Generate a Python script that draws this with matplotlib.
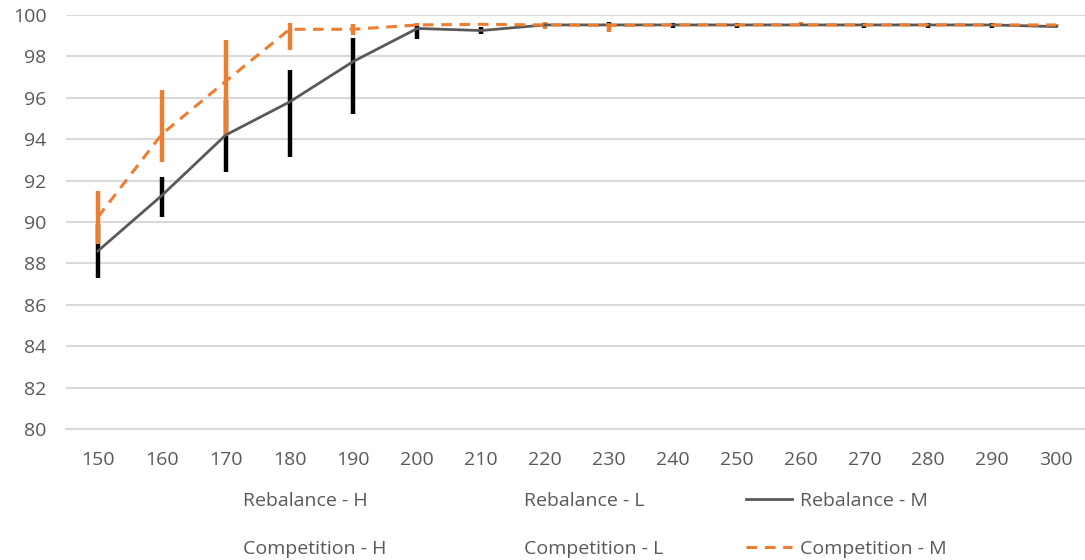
import matplotlib
matplotlib.use("Agg")
import matplotlib.pyplot as plt
from matplotlib.lines import Line2D
import numpy as np

plt.rcParams['font.family'] = ['Open Sans', 'DejaVu Sans']

# x categories
cats = [150, 160, 170, 180, 190, 200, 210, 220, 230, 240, 250, 260, 270, 280, 290, 300]

# Rebalance high / mid / low
reb_h = [89.9, 92.16, 95.9, 97.33, 98.91, 99.45, 99.4, 99.6, 99.68, 99.6, 99.6, 99.58, 99.6, 99.6, 99.6, 99.5]
reb_m = [88.6, 91.28, 94.2, 95.8, 97.76, 99.35, 99.25, 99.52, 99.52, 99.52, 99.52, 99.52, 99.52, 99.52, 99.52, 99.44]
reb_l = [87.28, 90.24, 92.43, 93.12, 95.2, 98.85, 99.07, 99.45, 99.45, 99.37, 99.37, 99.45, 99.37, 99.37, 99.37, 99.4]

# Competition high / mid / low
comp_h = [91.52, 96.4, 98.8, 99.63, 99.57, 99.6, 99.6, 99.65, 99.6, 99.56, 99.56, 99.65, 99.56, 99.56, 99.56, 99.58]
comp_m = [90.24, 94.24, 96.8, 99.31, 99.31, 99.52, 99.55, 99.52, 99.5, 99.52, 99.52, 99.52, 99.52, 99.52, 99.52, 99.52]
comp_l = [88.96, 92.88, 94.16, 98.32, 99.04, 99.45, 99.5, 99.33, 99.2, 99.48, 99.48, 99.45, 99.48, 99.48, 99.48, 99.45]

orange = '#ED7D31'
txt = '#595959'
gridc = '#d9d9d9'

W, H = 1085, 560
fig = plt.figure(figsize=(W / 100, H / 100), dpi=100)
# plot area in pixels
left, right, top, bottom = 66, 1088, 15, 429
ax = fig.add_axes([left / W, 1 - bottom / H, (right - left) / W, (bottom - top) / H])

x = np.arange(len(cats))

# high-low bars, rebalance first then competition on top
ax.vlines(x, reb_l, reb_h, color='black', lw=3.2, zorder=3)
ax.vlines(x, comp_l, comp_h, color=orange, lw=3.2, zorder=4)
ax.plot(x, reb_m, color='#595959', lw=2, zorder=5)
ax.plot(x, comp_m, color=orange, lw=2.2, ls=(0, (3.5, 2.5)), zorder=6)

ax.set_xlim(-0.5, len(cats) - 0.5)
ax.set_ylim(80, 100)
ax.set_yticks(np.arange(80, 101, 2))
ax.set_xticks(x)
ax.set_xticklabels([str(c) for c in cats])
ax.grid(axis='y', color=gridc, lw=1.5)
ax.set_axisbelow(True)
for s in ['top', 'right', 'left']:
    ax.spines[s].set_visible(False)
ax.spines['bottom'].set_color(gridc)
ax.spines['bottom'].set_linewidth(1.5)
ax.tick_params(axis='both', length=0, labelsize=14, colors=txt)
ax.tick_params(axis='x', pad=16)
ax.tick_params(axis='y', pad=14)

blank = Line2D([], [], lw=0)
handles = [blank, blank, blank, blank,
           Line2D([], [], color='#595959', lw=2),
           Line2D([], [], color=orange, lw=2.2, ls=(0, (3.5, 2.5)))]
labels = ['Rebalance - H', 'Competition - H', 'Rebalance - L', 'Competition - L',
          'Rebalance - M', 'Competition - M']
leg = fig.legend(handles, labels, ncol=3, loc='upper left',
                 bbox_to_anchor=(181 / W, 1 - 484 / H), frameon=False,
                 fontsize=14, labelcolor=txt, handlelength=2.4, handletextpad=0.4,
                 columnspacing=4.25, labelspacing=1.55, borderaxespad=0)

fig.savefig('out.png', dpi=100)
